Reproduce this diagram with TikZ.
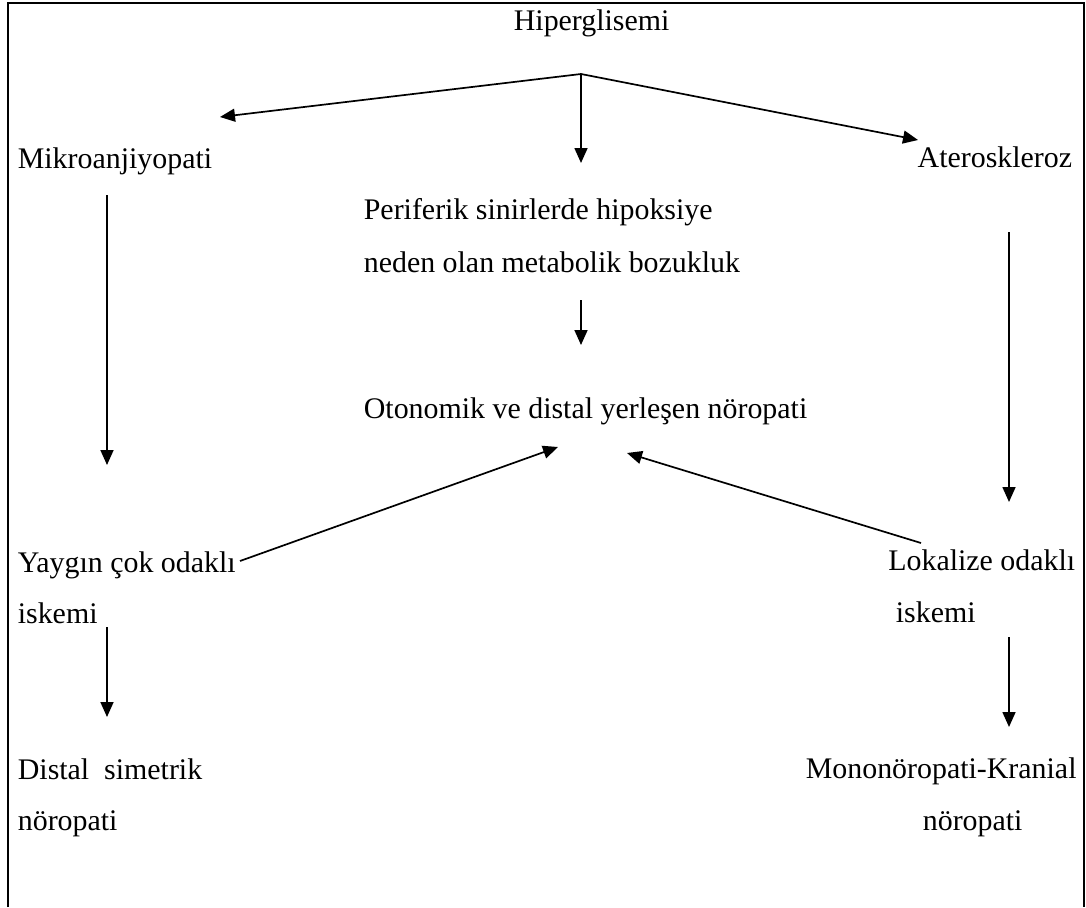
\documentclass[tikz,border=0pt]{standalone}
\usepackage{fontspec}
\setmainfont{Liberation Serif}
\usetikzlibrary{arrows.meta}
\begin{document}
\begin{tikzpicture}[x=1pt,y=-1pt,line width=1.7pt,
    >={Triangle[length=15pt,width=13pt]},
    every node/.style={inner sep=0pt,anchor=base west,font=\fontsize{29.9}{36}\selectfont}]
      \useasboundingbox (0,0) rectangle (1086,907);
      \draw[line width=2pt] (7.5,907) -- (7.5,3) -- (1084,3) -- (1084,907);
      \node (hiper) at (513,31) {Hiperglisemi};
      \node (mikro) at (17,168) {Mikroanjiyopati};
      \node[anchor=base east] (ater) at (1073,167) {Ateroskleroz};
      \node (peri1) at (363,219) {Periferik sinirlerde hipoksiye};
      \node (peri2) at (363,272) {neden olan metabolik bozukluk};
      \node (oton) at (363,418) {Otonomik ve distal yerleşen nöropati};
      \node (yay1) at (17,572) {Yaygın çok odaklı};
      \node (yay2) at (17,623) {iskemi};
      \node[anchor=base east] (lok1) at (1076,570) {Lokalize odaklı};
      \node (lok2) at (895,622) {iskemi};
      \node (dis1) at (17,779) {Distal\ \ simetrik};
      \node (dis2) at (17,830) {nöropati};
      \node (mono1) at (805,778) {Mononöropati-Kranial};
      \node (mono2) at (922,830) {nöropati};
      \coordinate (j) at (581,74);
      \coordinate (jl) at (220,117);
      \coordinate (jc) at (581,163);
      \coordinate (jr) at (918,140);
      \coordinate (m1) at (107,195);
      \coordinate (m2) at (107,465);
      \coordinate (a1) at (1009,232);
      \coordinate (a2) at (1009,502);
      \coordinate (p1) at (581,300);
      \coordinate (p2) at (581,345);
      \coordinate (y1) at (240,561);
      \coordinate (o1) at (558,447);
      \coordinate (l1) at (921,543);
      \coordinate (o2) at (627,453);
      \coordinate (y2) at (107,627);
      \coordinate (d1) at (107,717);
      \coordinate (l2) at (1009,637);
      \coordinate (k1) at (1009,727);
      \draw[->] (j) -- (jl);
      \draw[->] (j) -- (jc);
      \draw[->] (j) -- (jr);
      \draw[->] (m1) -- (m2);
      \draw[->] (a1) -- (a2);
      \draw[->] (p1) -- (p2);
      \draw[->] (y1) -- (o1);
      \draw[->] (l1) -- (o2);
      \draw[->] (y2) -- (d1);
      \draw[->] (l2) -- (k1);
    \end{tikzpicture}
\end{document}
